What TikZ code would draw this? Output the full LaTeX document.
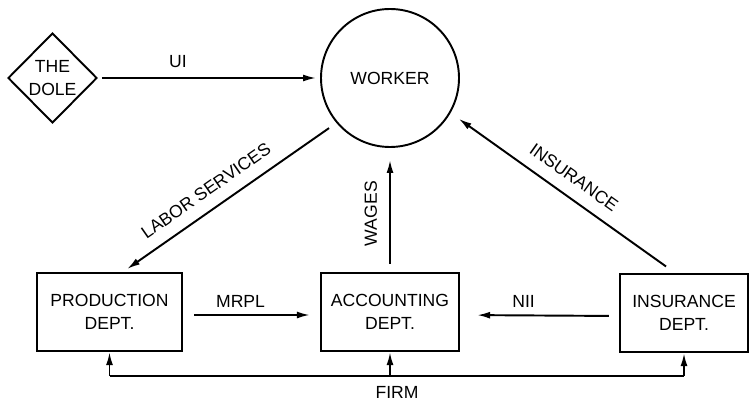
\documentclass[tikz,border=0pt]{standalone}
\usepackage{fontspec}
\setmainfont{Liberation Sans}
\usepackage{tikz}
\usetikzlibrary{shapes.geometric, arrows.meta, positioning}

\begin{document}
\begin{tikzpicture}[
    every node/.style={font=\fontsize{10}{13.5}\selectfont},
    dept/.style={draw, line width=1.3pt, minimum height=1.56cm, align=center},
    arr/.style={-{Latex[length=2.6mm,width=1.4mm]}, line width=1.1pt},
    lbl/.style={sloped, above=3.5pt}
]

\useasboundingbox (0,0) rectangle (14.98,8.02);

% Top row
\node[draw, diamond, line width=1.1pt, minimum width=1.78cm, minimum height=1.8cm, inner sep=0pt, align=center] (dole) at (1.05,6.46) {THE\\DOLE};
\node[draw, circle, line width=1.1pt, minimum size=2.76cm, inner sep=0pt] (worker) at (7.8,6.46) {WORKER};

% Departments of the firm
\node[dept, minimum width=2.9cm] (prod) at (2.19,1.78) {PRODUCTION\\DEPT.};
\node[dept, minimum width=2.76cm] (acct) at (7.8,1.78) {ACCOUNTING\\DEPT.};
\node[dept, minimum width=2.56cm] (ins) at (13.68,1.76) {INSURANCE\\DEPT.};

% Flows
\draw[arr, shorten <=0.08cm, shorten >=0.08cm] (dole.east) -- (worker.west) node[pos=0.36, above=2pt] {UI};
\draw[arr, shorten <=0.18cm, shorten >=0.1cm] (worker.220) -- ([xshift=0.27cm]prod.north) node[lbl, pos=0.56] {LABOR SERVICES};
\draw[arr, shorten <=0.22cm, shorten >=0.2cm] ([xshift=-0.18cm]ins.north) -- (worker.-30) node[lbl, pos=0.5] {INSURANCE};
\draw[arr, shorten <=0.16cm, shorten >=0.24cm] (acct.north) -- (worker.south) node[lbl, pos=0.47] {WAGES};
\draw[arr, shorten <=0.22cm, shorten >=0.2cm] ([yshift=-0.06cm]prod.east) -- ([yshift=-0.06cm]acct.west) node[pos=0.42, above=0.5pt] {MRPL};
\draw[arr, shorten <=0.2cm, shorten >=0.34cm] ([yshift=-0.06cm]ins.west) -- ([yshift=-0.06cm]acct.east) node[pos=0.6, above=0.5pt] {NII};

% Firm bracket
\coordinate (firm) at (7.94,0.5);
\draw[line width=1.1pt] (prod.south |- firm) -- (ins.south |- firm);
\foreach \d in {prod, acct, ins}
    \draw[arr] (\d.south |- firm) -- (\d.south);
\node (firmlbl) [below=2.5pt of firm] {FIRM};

\end{tikzpicture}
\end{document}
